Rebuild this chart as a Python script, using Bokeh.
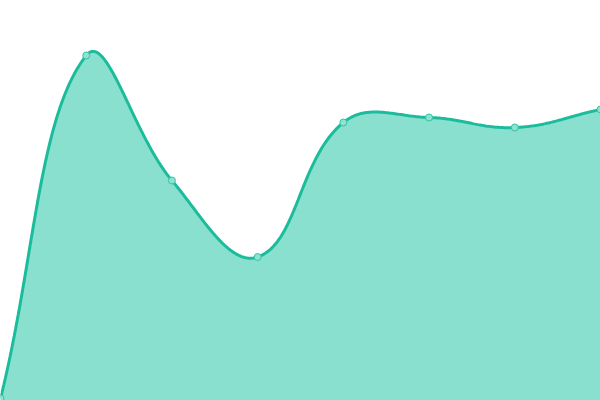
import numpy as np
from bokeh.plotting import figure
from bokeh.models import Range1d
from bokeh.embed import file_html
from bokeh.resources import INLINE

# data (heights, y scale 0..400)
labels = [0, 1, 2, 3, 4, 5, 6, 7]
values = [2, 345, 220, 143.5, 278, 283, 273, 291]

W, H = 600, 400
X_MAX, Y_MAX = 7, 400
TENSION = 0.4

# Chart.js-style cardinal spline computed in screen space
px = np.array(labels, dtype=float) * W / X_MAX
py = np.array(values, dtype=float) * H / Y_MAX
n = len(px)
cprev = np.zeros((n, 2))
cnext = np.zeros((n, 2))
for i in range(n):
    a = max(i - 1, 0)
    b = min(i + 1, n - 1)
    d01 = np.hypot(px[i] - px[a], py[i] - py[a])
    d12 = np.hypot(px[b] - px[i], py[b] - py[i])
    tot = d01 + d12
    s01 = d01 / tot if tot else 0
    s12 = d12 / tot if tot else 0
    fa, fb = TENSION * s01, TENSION * s12
    cprev[i] = (px[i] - fa * (px[b] - px[a]), py[i] - fa * (py[b] - py[a]))
    cnext[i] = (px[i] + fb * (px[b] - px[a]), py[i] + fb * (py[b] - py[a]))

cx, cy = [], []
tt = np.linspace(0, 1, 60)
for i in range(n - 1):
    P0 = np.array([px[i], py[i]])
    P1 = cnext[i]
    P2 = cprev[i + 1]
    P3 = np.array([px[i + 1], py[i + 1]])
    seg = ((1 - tt) ** 3)[:, None] * P0 + (3 * (1 - tt) ** 2 * tt)[:, None] * P1 \
        + (3 * (1 - tt) * tt ** 2)[:, None] * P2 + (tt ** 3)[:, None] * P3
    if i > 0:
        seg = seg[1:]
    cx.extend(seg[:, 0])
    cy.extend(seg[:, 1])
cx = np.array(cx) * X_MAX / W
cy = np.array(cy) * Y_MAX / H

p = figure(width=W, height=H, output_backend="svg", toolbar_location=None,
           x_range=Range1d(0, X_MAX), y_range=Range1d(0, Y_MAX),
           min_border=0)
p.axis.visible = False
p.grid.visible = False
p.outline_line_color = None
p.background_fill_color = "white"
p.border_fill_color = "white"

p.patch(list(cx) + [X_MAX, 0], list(cy) + [0, 0], fill_color="#8ae0ce",
        line_color=None)
p.line(cx, cy, line_color="#1abc9c", line_width=3)
p.scatter(labels, values, size=7, fill_color="#8ee2d0", line_color="#36c2a5",
          line_width=1)

open("out.html", "w").write(file_html(p, INLINE))
